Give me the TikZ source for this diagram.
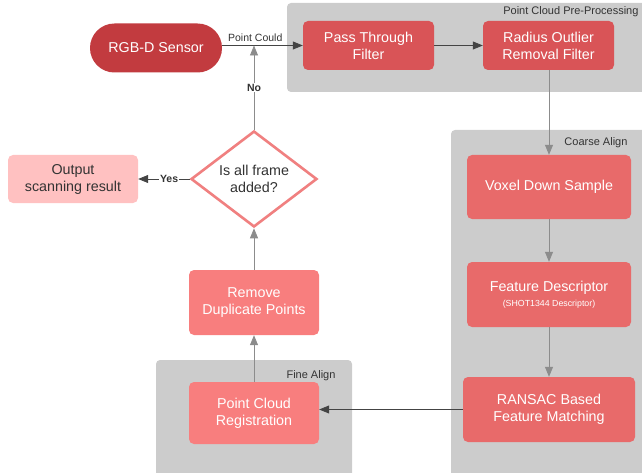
\documentclass[tikz,border=0pt]{standalone}
\usepackage{fontspec}
\setmainfont{Liberation Sans}
\usetikzlibrary{shapes.geometric,arrows.meta}
\definecolor{groupgray}{HTML}{CCCCCC}
\definecolor{labelgray}{HTML}{333333}
\definecolor{sensorred}{HTML}{C23B3F}
\definecolor{prered}{HTML}{D95457}
\definecolor{coarsered}{HTML}{E86A6A}
\definecolor{finered}{HTML}{F87E7E}
\definecolor{outpink}{HTML}{FFC1C1}
\definecolor{checkline}{HTML}{F08080}
\definecolor{linedark}{HTML}{444444}
\definecolor{linelight}{HTML}{8C8C8C}
\begin{document}
\begin{tikzpicture}[x=1pt,y=-1pt,
  group/.style={fill=groupgray,rounded corners=4pt},
  grouplabel/.style={anchor=east,text=labelgray,font=\fontsize{11}{13}\selectfont},
  box/.style={rectangle,rounded corners=5pt,align=center,text=white,inner sep=0pt,font=\fontsize{14.3}{17}\selectfont},
  flow/.style={draw=linedark,line width=0.8pt,-{Triangle[length=10pt,width=8pt]}},
  flowlight/.style={flow,draw=linelight},
  edgelabel/.style={text=labelgray,font=\fontsize{10.5}{12}\selectfont,inner sep=1pt}]
\useasboundingbox (0,0) rectangle (642,473);
\fill[group] (287,3) rectangle (660,92);
\node[grouplabel] (prelabel) at (642,12) {Point Cloud Pre-Processing};
\fill[group] (451,130) rectangle (660,490);
\node[grouplabel] (coarselabel) at (631,143) {Coarse Align};
\fill[group] (156,360) rectangle (352,490);
\node[grouplabel] (finelabel) at (339,376) {Fine Align};
\node[box,fill=sensorred,minimum width=132pt,minimum height=49pt,rounded corners=24.4pt] (sensor) at (156,48) {RGB-D Sensor};
\node[box,fill=prered,minimum width=131pt,minimum height=49pt] (pass) at (368.5,45.5) {Pass Through\\Filter};
\node[box,fill=prered,minimum width=131pt,minimum height=49pt] (radius) at (548.5,45.5) {Radius Outlier\\Removal Filter};
\node[box,fill=coarsered,minimum width=164pt,minimum height=64pt] (voxel) at (549,187) {Voxel Down Sample};
\node[box,fill=coarsered,minimum width=164pt,minimum height=65pt] (feature) at (549,294.5) {Feature Descriptor\\[-2pt]{\fontsize{8.8}{10}\selectfont(SHOT1344 Descriptor)}};
\node[box,fill=coarsered,minimum width=172pt,minimum height=65pt] (ransac) at (549,409.5) {RANSAC Based\\Feature Matching};
\node[box,fill=finered,minimum width=130pt,minimum height=62pt] (reg) at (254,413) {Point Cloud\\Registration};
\node[box,fill=finered,minimum width=130pt,minimum height=65pt] (remove) at (254,302.5) {Remove\\Duplicate Points};
\node[diamond,draw=checkline,line width=2.6pt,fill=white,minimum width=126pt,minimum height=96pt,inner sep=0pt,aspect=1.3,align=center,text=labelgray,font=\fontsize{14.3}{17}\selectfont] (check) at (254,179) {Is all frame\\added?};
\node[box,fill=outpink,text=labelgray,minimum width=130pt,minimum height=48pt] (output) at (73,179) {Output\\scanning result};
\coordinate (nojoin) at (254,45.5);
\draw[flow] (sensor.east |- pass.west) -- node[edgelabel,above=2pt,pos=0.41] (pclabel) {Point Could} (pass.west);
\draw[flow] (pass) -- (radius);
\draw[flowlight] (radius.south -| voxel.north) -- (voxel.north);
\draw[flowlight] (voxel) -- (feature);
\draw[flowlight] (feature) -- (ransac);
\draw[flow] (ransac) -- (reg.east |- ransac.west);
\draw[flowlight] (reg) -- (remove);
\draw[flowlight] (remove) -- (check);
\draw[flowlight] (check.north) -- node[edgelabel,fill=white,font=\fontsize{10.5}{12}\selectfont\bfseries,pos=0.5] (nolabel) {No} (nojoin);
\draw[flow] (check.west) -- node[edgelabel,fill=white,font=\fontsize{10.5}{12}\selectfont\bfseries,pos=0.4] (yeslabel) {Yes} (output.east);
\end{tikzpicture}
\end{document}
